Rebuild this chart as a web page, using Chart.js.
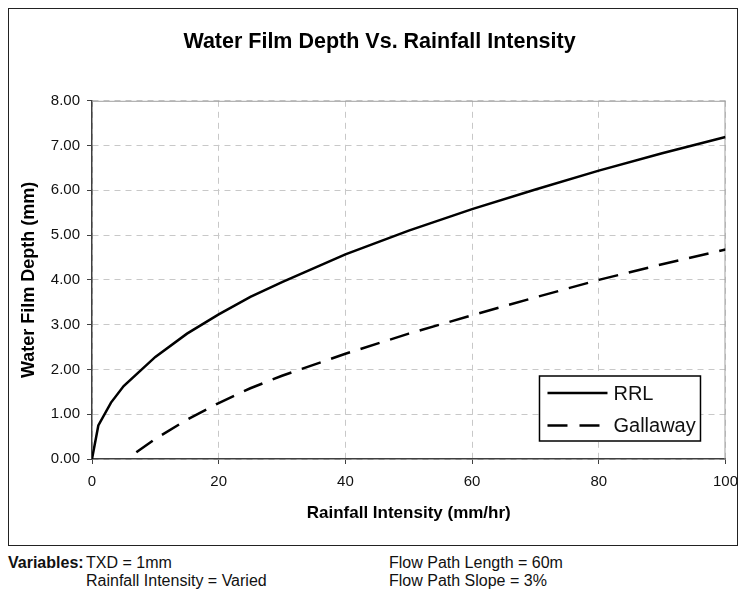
<!DOCTYPE html>
<html>
<head>
<meta charset="utf-8">
<script src="https://cdn.jsdelivr.net/npm/chart.js@4.4.1/dist/chart.umd.min.js"></script>
<style>
  html, body { margin: 0; padding: 0; background: #fff; width: 741px; height: 593px; overflow: hidden; }
  body { position: relative; font-family: 'Liberation Sans', Arial, sans-serif; color: #111; }
  #box { position: absolute; left: 8px; top: 8px; width: 730px; height: 538px; box-sizing: border-box; border: 1px solid #222; }
  #c { position: absolute; left: 0; top: 0; }
  .note { position: absolute; font-size: 16px; line-height: 18px; white-space: nowrap; }
  .b { font-weight: bold; }
</style>
</head>
<body>
<div id="box"><canvas id="c" width="738" height="536"></canvas></div>
<div class="note b" style="left:8px; top:554px;">Variables:</div>
<div class="note" style="left:86px; top:554px;">TXD = 1mm</div>
<div class="note" style="left:86px; top:572px;">Rainfall Intensity = Varied</div>
<div class="note" style="left:389px; top:554px;">Flow Path Length = 60m</div>
<div class="note" style="left:389px; top:572px;">Flow Path Slope = 3%</div>
<script>
// ---- data ----
const rrlX = [0, 1, 3, 5, 10, 15, 20, 25, 30, 40, 50, 60, 70, 80, 90, 100];
const rrlY = [0, 0.75, 1.26, 1.63, 2.28, 2.80, 3.23, 3.62, 3.95, 4.57, 5.10, 5.58, 6.02, 6.44, 6.83, 7.19];
const galX = [7, 10, 15, 20, 25, 30, 40, 50, 60, 70, 80, 90, 100];
const galY = [0.15, 0.45, 0.88, 1.25, 1.58, 1.86, 2.35, 2.80, 3.21, 3.61, 4.00, 4.35, 4.68];
const seriesNames = ['RRL', 'Gallaway'];
const chartTitle = 'Water Film Depth Vs. Rainfall Intensity';
const xTitle = 'Rainfall Intensity (mm/hr)';
const yTitle = 'Water Film Depth (mm)';

Chart.defaults.font.family = "'Liberation Sans', Arial, sans-serif";

const toPts = (xs, ys) => xs.map((x, i) => ({ x: x, y: ys[i] }));

const framePlugin = {
  id: 'frame',
  beforeDatasetsDraw(chart) {
    const { ctx, chartArea: a } = chart;
    ctx.save();
    ctx.strokeStyle = '#a0a0a0';
    ctx.lineWidth = 1;
    ctx.beginPath();
    ctx.moveTo(a.left, a.top + 0.5);
    ctx.lineTo(a.right, a.top + 0.5);
    ctx.moveTo(a.right - 0.5, a.top);
    ctx.lineTo(a.right - 0.5, a.bottom);
    ctx.stroke();
    ctx.restore();
  }
};

const boxLegend = {
  id: 'boxLegend',
  afterDatasetsDraw(chart) {
    const { ctx, chartArea: a } = chart;
    const w = 161, h = 65;
    const right = a.right - 25, bottom = a.bottom - 18;
    const left = right - w, top = bottom - h;
    ctx.save();
    ctx.fillStyle = '#fff';
    ctx.fillRect(left, top, w, h);
    ctx.strokeStyle = '#000';
    ctx.lineWidth = 1.5;
    ctx.strokeRect(left, top, w, h);
    const rows = [top + 17, top + 49.5];
    chart.data.datasets.forEach((ds, i) => {
      const y = rows[i];
      ctx.strokeStyle = ds.borderColor;
      ctx.lineWidth = ds.borderWidth;
      ctx.setLineDash(i === 1 ? [20, 12] : []);
      ctx.beginPath();
      ctx.moveTo(left + 8, y);
      ctx.lineTo(left + 68, y);
      ctx.stroke();
      ctx.setLineDash([]);
      ctx.fillStyle = '#111';
      ctx.font = "20px 'Liberation Sans', Arial, sans-serif";
      ctx.textBaseline = 'middle';
      ctx.textAlign = 'left';
      ctx.fillText(ds.label, left + 74, y + 1);
    });
    ctx.restore();
  }
};

new Chart(document.getElementById('c'), {
  type: 'line',
  data: {
    datasets: [
      { label: seriesNames[0], data: toPts(rrlX, rrlY), borderColor: '#000', borderWidth: 2.5,
        pointRadius: 0, tension: 0, fill: false },
      { label: seriesNames[1], data: toPts(galX, galY), borderColor: '#000', borderWidth: 2.5,
        borderDash: [20, 11], pointRadius: 0, tension: 0, fill: false }
    ]
  },
  options: {
    responsive: false,
    animation: false,
    devicePixelRatio: 1,
    layout: { padding: { left: 3, right: 0, top: 0, bottom: 0 } },
    plugins: {
      legend: { display: false },
      tooltip: { enabled: false },
      title: {
        display: true, text: chartTitle, color: '#000',
        font: { size: 21.5, weight: 'bold' },
        padding: { top: 20, bottom: 46 }
      }
    },
    scales: {
      x: {
        type: 'linear', min: 0, max: 100,
        ticks: { stepSize: 20, color: '#111', font: { size: 15 }, padding: 9, maxRotation: 0 },
        grid: { color: '#c8c8c8', lineWidth: 1, tickColor: '#404040', tickLength: 5 },
        border: { color: '#404040', width: 1.5, dash: [6, 5] },
        title: { display: true, text: xTitle, color: '#000', font: { size: 17, weight: 'bold' },
                 padding: { top: 0, bottom: 21 } },
        afterFit(s) { s.height = 86; }
      },
      y: {
        min: 0, max: 8,
        ticks: { stepSize: 1, color: '#111', font: { size: 15 }, padding: 7,
                 callback: v => Number(v).toFixed(2) },
        grid: { color: '#c8c8c8', lineWidth: 1, tickColor: '#404040', tickLength: 5 },
        border: { color: '#404040', width: 1.5, dash: [6, 5] },
        title: { display: true, text: yTitle, color: '#000', font: { size: 18, weight: 'bold' },
                 padding: { top: 6, bottom: 0 } },
        afterFit(s) { s.width = 80; }
      }
    }
  },
  plugins: [framePlugin, boxLegend]
});
</script>
</body>
</html>
